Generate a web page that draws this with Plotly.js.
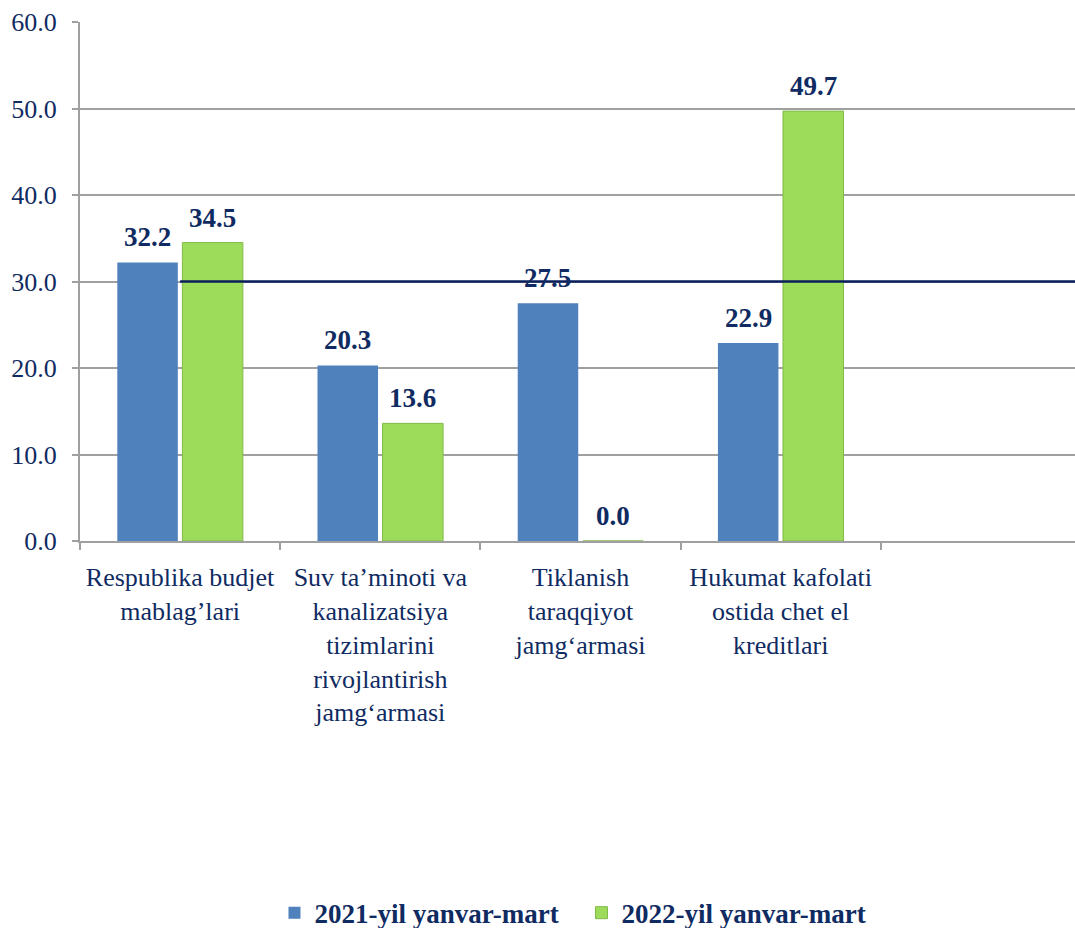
<!DOCTYPE html>
<html>
<head>
<meta charset="utf-8">
<script src="https://cdn.plot.ly/plotly-3.0.1.min.js"></script>
<style>
  html, body { margin: 0; padding: 0; background: #ffffff; }
  #chart { width: 1075px; height: 928px; }
</style>
</head>
<body>
<div id="chart"></div>
<script>
// ---- data ----
const categories = [
  "Respublika budjet<br>mablag’lari",
  "Suv ta’minoti va<br>kanalizatsiya<br>tizimlarini<br>rivojlantirish<br>jamg‘armasi",
  "Tiklanish<br>taraqqiyot<br>jamg‘armasi",
  "Hukumat kafolati<br>ostida chet el<br>kreditlari"
];
const seriesNames = ["2021-yil yanvar-mart", "2022-yil yanvar-mart"];
const values2021 = [32.2, 20.3, 27.5, 22.9];
const values2022 = [34.5, 13.6, 0.0, 49.7];
const referenceLine = 30;
const yTickVals = [0, 10, 20, 30, 40, 50, 60];

// ---- style ----
const navy = "#0F2B62";
const serif = "Liberation Serif";
const barGap = 0.35;
const barGroupGap = 0.07;
const colors = ["#4F81BD", "#9CDC5A"];
const lineColors = ["#4F81BD", "#82B94A"];

const allSeries = [values2021, values2022];
const traces = allSeries.map((vals, s) => ({
  type: "bar",
  name: seriesNames[s],
  x: categories,
  y: vals,
  marker: { color: colors[s], line: { color: lineColors[s], width: s === 1 ? 1 : 0 } },
  hoverinfo: "x+y"
}));

// data labels above bars
const slot = (1 - barGap) / 2;
const annotations = [];
allSeries.forEach((vals, s) => {
  vals.forEach((v, i) => {
    annotations.push({
      xref: "x", yref: "y",
      x: i + (s === 0 ? -slot / 2 : slot / 2),
      y: v,
      text: "<b>" + v.toFixed(1) + "</b>",
      showarrow: false,
      yanchor: "bottom",
      xanchor: "center",
      yshift: 8,
      font: { family: serif, size: 27, color: navy }
    });
  });
});

const layout = {
  width: 1075,
  height: 928,
  margin: { l: 80, r: 0, t: 22, b: 387, autoexpand: false },
  paper_bgcolor: "#ffffff",
  plot_bgcolor: "#ffffff",
  barmode: "group",
  bargap: barGap,
  bargroupgap: barGroupGap,
  showlegend: true,
  legend: {
    orientation: "h",
    x: 0.504, xanchor: "center",
    y: -0.717, yanchor: "middle",
    font: { family: serif, size: 27, color: navy, weight: "bold" },
    itemwidth: 30,
    entrywidth: 262,
    entrywidthmode: "pixels",
    traceorder: "normal"
  },
  xaxis: {
    type: "category",
    range: [-0.5, 4.47],
    tickson: "boundaries",
    ticks: "outside",
    ticklen: 7,
    tickwidth: 2,
    tickcolor: "#A0A0A0",
    showline: true,
    linecolor: "#A0A0A0",
    linewidth: 2,
    showgrid: false,
    tickangle: 0,
    ticklabelstandoff: 12,
    automargin: false,
    tickfont: { family: serif, size: 26, color: navy },
    fixedrange: true
  },
  yaxis: {
    range: [0, 60],
    tickvals: yTickVals,
    tickformat: ".1f",
    ticks: "outside",
    ticklen: 6,
    tickwidth: 2,
    tickcolor: "#A0A0A0",
    showline: true,
    linecolor: "#A0A0A0",
    linewidth: 2,
    showgrid: true,
    gridcolor: "#A0A0A0",
    gridwidth: 2,
    zeroline: false,
    ticklabelstandoff: 10,
    automargin: false,
    tickfont: { family: serif, size: 26, color: navy },
    fixedrange: true
  },
  shapes: [{
    type: "line",
    xref: "x", yref: "y",
    x0: 0, x1: 4.47,
    y0: referenceLine, y1: referenceLine,
    line: { color: "#0A1F5C", width: 2.5 },
    layer: "above"
  }],
  annotations: annotations
};

Plotly.newPlot("chart", traces, layout, { displayModeBar: false, staticPlot: true });
</script>
</body>
</html>
